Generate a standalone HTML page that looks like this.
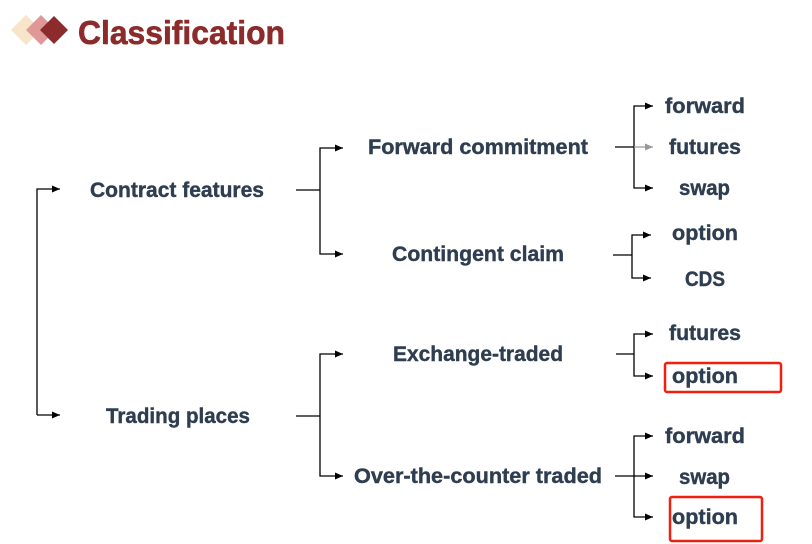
<!DOCTYPE html>
<html><head><meta charset="utf-8"><style>
html,body{margin:0;padding:0;background:#fff;width:812px;height:544px;overflow:hidden}
svg{display:block}
text{font-family:"Liberation Sans",sans-serif;font-weight:bold;fill:#2e3e50;font-size:21px;stroke:#2e3e50;stroke-width:0.4}
</style></head><body>
<svg width="812" height="544" viewBox="0 0 812 544">
<defs><marker id="a" markerWidth="9" markerHeight="9" refX="8" refY="4.5" orient="auto" markerUnits="userSpaceOnUse"><path d="M0,1 L8,4.5 L0,8Z" fill="#000"/></marker>
<marker id="g" markerWidth="9" markerHeight="9" refX="8" refY="4.5" orient="auto" markerUnits="userSpaceOnUse"><path d="M0,1 L8,4.5 L0,8Z" fill="#999"/></marker></defs>
<polygon points="26,15 41,30 26,45 11,30" fill="#f8e4c8"/>
<polygon points="41,15 56,30 41,45 26,30" fill="#df9898"/>
<polygon points="54,16 68,30 54,44 40,30" fill="#8c2b2b"/>
<text x="78" y="44" style="font-size:33px;fill:#8c2b2b;stroke:#8c2b2b;stroke-width:0.6" textLength="207" lengthAdjust="spacingAndGlyphs">Classification</text>
<g stroke="#000" stroke-width="1.3" fill="none">
<path d="M37,415 V189 H60" marker-end="url(#a)"/>
<path d="M37,415 H60" marker-end="url(#a)"/>
<path d="M296,190 H320"/><path d="M320,190 V148 H343" marker-end="url(#a)"/><path d="M320,190 V254 H343" marker-end="url(#a)"/>
<path d="M296,416 H320"/><path d="M320,416 V354 H343" marker-end="url(#a)"/><path d="M320,416 V476 H343" marker-end="url(#a)"/>
<path d="M615,147 H634"/><path d="M634,147 V106 H653" marker-end="url(#a)"/><path d="M634,147 V188 H653" marker-end="url(#a)"/>
<path d="M634,147 H653" stroke="#999" marker-end="url(#g)"/>
<path d="M613,255 H632"/><path d="M632,255 V235 H651" marker-end="url(#a)"/><path d="M632,255 V278 H651" marker-end="url(#a)"/>
<path d="M616,354 H634"/><path d="M634,354 V334 H653" marker-end="url(#a)"/><path d="M634,354 V376 H653" marker-end="url(#a)"/>
<path d="M615,476 H653" marker-end="url(#a)"/><path d="M634,476 V436 H653" marker-end="url(#a)"/><path d="M634,476 V517 H653" marker-end="url(#a)"/>
</g>
<rect x="665" y="363" width="116" height="29" rx="2" fill="none" stroke="#f02010" stroke-width="2.5"/>
<rect x="670" y="497" width="92" height="44" rx="2" fill="none" stroke="#f02010" stroke-width="2.5"/>
<text x="90" y="197" textLength="174" lengthAdjust="spacingAndGlyphs">Contract features</text>
<text x="106" y="423" textLength="144" lengthAdjust="spacingAndGlyphs">Trading places</text>
<text x="368" y="154" textLength="220" lengthAdjust="spacingAndGlyphs">Forward commitment</text>
<text x="392" y="261" textLength="172" lengthAdjust="spacingAndGlyphs">Contingent claim</text>
<text x="393" y="361" textLength="170" lengthAdjust="spacingAndGlyphs">Exchange-traded</text>
<text x="354" y="483" textLength="248" lengthAdjust="spacingAndGlyphs">Over-the-counter traded</text>
<text x="665" y="113" textLength="80" lengthAdjust="spacingAndGlyphs">forward</text>
<text x="669" y="154" textLength="72" lengthAdjust="spacingAndGlyphs">futures</text>
<text x="679" y="195" textLength="51" lengthAdjust="spacingAndGlyphs">swap</text>
<text x="672" y="240" textLength="66" lengthAdjust="spacingAndGlyphs">option</text>
<text x="685" y="286" textLength="40" lengthAdjust="spacingAndGlyphs">CDS</text>
<text x="669" y="340" textLength="72" lengthAdjust="spacingAndGlyphs">futures</text>
<text x="672" y="383" textLength="66" lengthAdjust="spacingAndGlyphs">option</text>
<text x="665" y="443" textLength="80" lengthAdjust="spacingAndGlyphs">forward</text>
<text x="679" y="484" textLength="51" lengthAdjust="spacingAndGlyphs">swap</text>
<text x="672" y="524" textLength="66" lengthAdjust="spacingAndGlyphs">option</text>
</svg>
</body></html>
